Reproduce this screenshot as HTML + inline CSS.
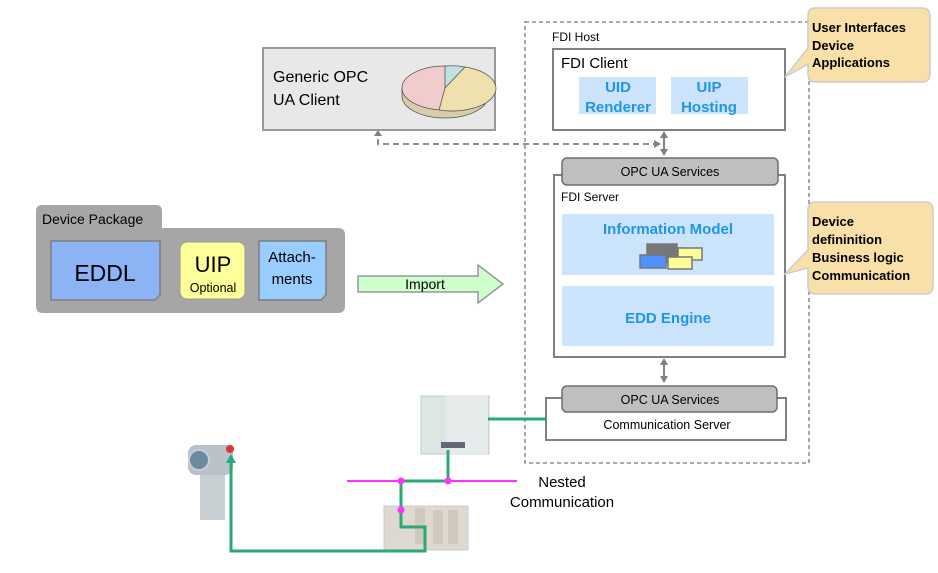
<!DOCTYPE html>
<html><head><style>
body{margin:0;background:#fff;}
svg{display:block;font-family:"Liberation Sans",Arial,sans-serif;}
</style></head><body>
<svg width="938" height="573" viewBox="0 0 938 573">
<!-- FDI host dashed -->
<rect x="525" y="22" width="284" height="441" fill="none" stroke="#777" stroke-width="1.3" stroke-dasharray="4,3"/>
<text x="552" y="41" font-size="12">FDI Host</text>
<rect x="553" y="49" width="232" height="81" fill="#fff" stroke="#7f7f7f" stroke-width="2"/>
<text x="561" y="68" font-size="15">FDI Client</text>
<rect x="579" y="77" width="77" height="37" fill="#cce4fb"/>
<rect x="671" y="77" width="77" height="37" fill="#cce4fb"/>
<!-- arrows -->
<line x1="664" y1="136" x2="664" y2="151" stroke="#808080" stroke-width="2"/>
<path d="M660,138 L664,131 L668,138z M660,149 L664,156 L668,149z" fill="#808080"/>
<line x1="664" y1="363" x2="664" y2="378" stroke="#808080" stroke-width="2"/>
<path d="M660,365 L664,358 L668,365z M660,376 L664,383 L668,376z" fill="#808080"/>
<!-- FDI Server -->
<rect x="554" y="175" width="231" height="182" fill="#fff" stroke="#7f7f7f" stroke-width="2"/>
<rect x="562" y="158" width="216" height="27" rx="5" fill="#bfbfbf" stroke="#6f6f6f" stroke-width="1.5"/>
<text x="670" y="176" font-size="12.5" text-anchor="middle">OPC UA Services</text>
<text x="561" y="201" font-size="12">FDI Server</text>
<rect x="562" y="214" width="212" height="61" fill="#cce4fb"/>
<rect x="562" y="286" width="212" height="60" fill="#cce4fb"/>
<g stroke="#777" stroke-width="1.5">
<rect x="647" y="244" width="30" height="12" fill="#777"/>
<rect x="661" y="248" width="24" height="14" fill="#777"/>
<rect x="678" y="248" width="24" height="12" fill="#ffff99"/>
<rect x="640" y="255" width="26" height="13" fill="#4d90fe"/>
<rect x="668" y="257" width="24" height="12" fill="#ffff99"/>
</g>
<g font-size="15" font-weight="bold" fill="#2095e6" text-anchor="middle">
<text x="618" y="92">UID</text><text x="618" y="112">Renderer</text>
<text x="709" y="92">UIP</text><text x="709" y="112">Hosting</text>
<text x="668" y="234">Information Model</text>
<text x="668" y="323">EDD Engine</text>
</g>
<!-- comm server -->
<rect x="546" y="398" width="240" height="42" fill="#fff" stroke="#7f7f7f" stroke-width="2"/>
<rect x="562" y="386" width="215" height="26" rx="5" fill="#bfbfbf" stroke="#6f6f6f" stroke-width="1.5"/>
<text x="670" y="404" font-size="12.5" text-anchor="middle">OPC UA Services</text>
<text x="667" y="429" font-size="12.5" text-anchor="middle">Communication Server</text>
<!-- callouts -->
<path d="M815,8 H922 Q930,8 930,16 V74 Q930,82 922,82 H815 Q808,82 808,74 V64 L785,77 L808,48 V16 Q808,8 815,8z" fill="#f8e0a8" stroke="#ccc" stroke-width="1.5"/>
<g font-size="13" font-weight="bold"><text x="812" y="32">User Interfaces</text><text x="812" y="50">Device</text><text x="812" y="67">Applications</text></g>
<path d="M816,202 H925 Q933,202 933,210 V286 Q933,294 925,294 H816 Q808,294 808,286 V268 L785,274 L808,250 V210 Q808,202 816,202z" fill="#f8e0a8" stroke="#ccc" stroke-width="1.5"/>
<g font-size="13" font-weight="bold"><text x="812" y="226">Device</text><text x="812" y="244">defininition</text><text x="812" y="262">Business logic</text><text x="812" y="280">Communication</text></g>
<!-- generic OPC -->
<rect x="263" y="48" width="232" height="82" fill="#e8e8e8" stroke="#999" stroke-width="2"/>
<text x="273" y="82" font-size="16">Generic OPC</text>
<text x="273" y="105" font-size="16">UA Client</text>
<path d="M402,88 V96 A43,22 0 0 0 488,96 V88" fill="#d8ccaa" stroke="#555" stroke-width="0.8"/>
<ellipse cx="445" cy="88" rx="43" ry="22" fill="#f0cccc" stroke="#555" stroke-width="0.8"/>
<path d="M445,88 L445,66 A43,22 0 0 1 465,67 z" fill="#bfe3e3" stroke="#555" stroke-width="0.8"/>
<path d="M445,88 L465,67 A43,22 0 0 1 439,110 z" fill="#efe0b0" stroke="#555" stroke-width="0.8"/>
<!-- dashed connector -->
<polyline points="659,144 378,144 378,134" fill="none" stroke="#808080" stroke-width="1.8" stroke-dasharray="6,4"/>
<path d="M374,136 L378,130 L382,136z" fill="#808080"/>
<path d="M654,140 L661,144 L654,148z" fill="#808080"/>
<!-- device package -->
<path d="M42,205 H156 Q162,205 162,211 V228 H338 Q345,228 345,235 V306 Q345,313 338,313 H43 Q36,313 36,306 V211 Q36,205 42,205z" fill="#a6a6a6"/>
<text x="42" y="224" font-size="14">Device Package</text>
<path d="M51,241 H160 V295 L155,300 H51z" fill="#8cb4f5" stroke="#7f7f7f" stroke-width="1.5"/>
<text x="105" y="281" font-size="23" text-anchor="middle">EDDL</text>
<rect x="180" y="242" width="65" height="57" rx="7" fill="#ffff99" stroke="#999" stroke-width="1"/>
<text x="213" y="272" font-size="22" text-anchor="middle">UIP</text>
<text x="213" y="292" font-size="12.5" text-anchor="middle">Optional</text>
<path d="M259,241 H326 V295 L321,300 H259z" fill="#99ccff" stroke="#7f7f7f" stroke-width="1.5"/>
<text x="292" y="262" font-size="15" text-anchor="middle">Attach-</text>
<text x="292" y="284" font-size="15" text-anchor="middle">ments</text>
<!-- import arrow -->
<path d="M358,276 H478 V265 L503,284 L478,303 V292 H358z" fill="#ccffcc" stroke="#999" stroke-width="1.5"/>
<text x="425" y="289" font-size="14" text-anchor="middle">Import</text>
<!-- controller image -->
<rect x="421" y="396" width="68" height="58" fill="#dde6e4" stroke="#bcc" stroke-width="1"/>
<rect x="446" y="395" width="42" height="60" fill="#e6eceb"/>
<rect x="441" y="442" width="24" height="6" fill="#667"/>
<rect x="384" y="506" width="84" height="44" fill="#ddd8d0" stroke="#ccc"/>
<g fill="#cfc8bd"><rect x="415" y="508" width="10" height="36"/><rect x="433" y="510" width="10" height="34"/><rect x="448" y="510" width="10" height="34"/></g>
<!-- transmitter -->
<rect x="200" y="465" width="25" height="55" fill="#c8cfd3"/>
<rect x="188" y="445" width="45" height="30" rx="8" fill="#b8c2c8"/>
<circle cx="199" cy="460" r="10" fill="#6c8a9c" stroke="#ccd" stroke-width="2"/>
<circle cx="230" cy="449" r="4" fill="#d33"/>
<!-- lines -->
<line x1="347" y1="481" x2="517" y2="481" stroke="#ff33ff" stroke-width="2"/>
<polyline points="488,419 546,419" fill="none" stroke="#2aa876" stroke-width="3"/>
<polyline points="448,450 448,481 401,481 401,527 425,527 425,551 231,551 231,462" fill="none" stroke="#2aa876" stroke-width="3"/>
<path d="M226,463 L231,454 L236,463z" fill="#2aa876"/>
<g fill="#ff33ff"><circle cx="401" cy="481" r="3.5"/><circle cx="448" cy="481" r="3.5"/><circle cx="401" cy="510" r="3.5"/></g>
<text x="562" y="487" font-size="15" text-anchor="middle">Nested</text>
<text x="562" y="507" font-size="15" text-anchor="middle">Communication</text>
</svg>
</body></html>
